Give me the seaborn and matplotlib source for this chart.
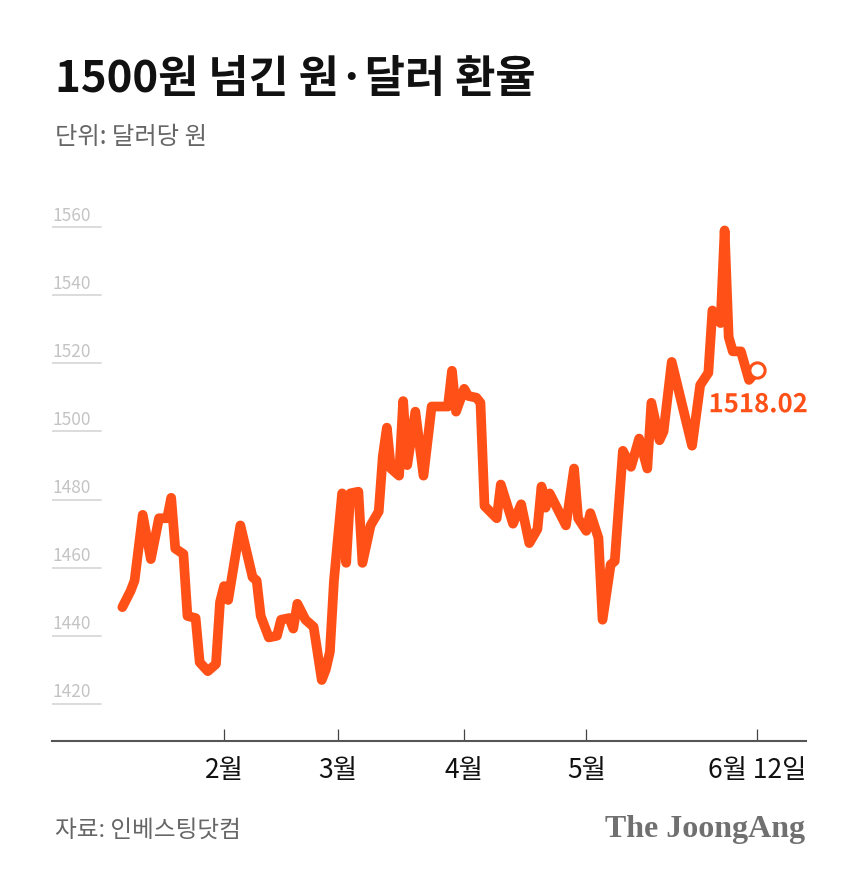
import pandas as pd
import matplotlib
matplotlib.use("Agg")
import matplotlib.pyplot as plt
import matplotlib.patheffects as pe
import seaborn as sns

# exchange rate (won per dollar)
dates = ["2026-01-07", "2026-01-09", "2026-01-10", "2026-01-12", "2026-01-14", "2026-01-16",
         "2026-01-18", "2026-01-19", "2026-01-20", "2026-01-22", "2026-01-23", "2026-01-25",
         "2026-01-26", "2026-01-28", "2026-01-30", "2026-01-31",
         "2026-02-01", "2026-02-02", "2026-02-05", "2026-02-08", "2026-02-09", "2026-02-10",
         "2026-02-12", "2026-02-14", "2026-02-15", "2026-02-17", "2026-02-18", "2026-02-19",
         "2026-02-21", "2026-02-23", "2026-02-25", "2026-02-26", "2026-02-27", "2026-02-28",
         "2026-03-02", "2026-03-03", "2026-03-04", "2026-03-06", "2026-03-07", "2026-03-09",
         "2026-03-11", "2026-03-12", "2026-03-13", "2026-03-14", "2026-03-16", "2026-03-17",
         "2026-03-18", "2026-03-20", "2026-03-22", "2026-03-24", "2026-03-26", "2026-03-28",
         "2026-03-29", "2026-03-30",
         "2026-04-01", "2026-04-02", "2026-04-04", "2026-04-05", "2026-04-06", "2026-04-09",
         "2026-04-10", "2026-04-13", "2026-04-15", "2026-04-17", "2026-04-19", "2026-04-20",
         "2026-04-21", "2026-04-22", "2026-04-26", "2026-04-28", "2026-04-29",
         "2026-05-01", "2026-05-02", "2026-05-04", "2026-05-05", "2026-05-07", "2026-05-08",
         "2026-05-10", "2026-05-12", "2026-05-14", "2026-05-16", "2026-05-17", "2026-05-19",
         "2026-05-20", "2026-05-22", "2026-05-27", "2026-05-29", "2026-05-31",
         "2026-06-01", "2026-06-03", "2026-06-04", "2026-06-05", "2026-06-06", "2026-06-08",
         "2026-06-10", "2026-06-12"]
rates = [1448.4, 1453.1, 1456.2, 1475.5, 1462.5, 1474.5, 1474.5, 1480.5, 1465.6, 1464.0,
         1445.8, 1445.2, 1432.2, 1429.6, 1431.7, 1449.9,
         1454.6, 1450.5, 1472.4, 1457.2, 1456.2, 1445.8, 1439.5, 1440.0, 1444.7, 1445.2,
         1442.1, 1449.4, 1444.7, 1442.6, 1427.0, 1430.1, 1435.3, 1456.2,
         1481.8, 1461.4, 1481.8, 1482.3, 1461.4, 1472.4, 1476.5, 1492.7, 1501.1, 1489.1,
         1487.0, 1508.9, 1490.1, 1505.8, 1487.0, 1507.3, 1507.3, 1507.3, 1517.8, 1505.8,
         1512.5, 1510.4, 1509.9, 1508.4, 1478.1, 1474.5, 1484.4, 1472.9, 1478.6, 1467.2,
         1471.3, 1483.8, 1477.6, 1481.8, 1472.4, 1489.1, 1474.5,
         1470.8, 1476.0, 1468.7, 1444.7, 1460.9, 1461.9, 1494.3, 1489.6, 1497.9, 1489.1,
         1508.4, 1497.4, 1500.0, 1520.4, 1495.8, 1513.6, 1517.2,
         1535.5, 1531.8, 1559.0, 1527.7, 1523.5, 1523.5, 1515.1, 1518.02]

y_ticks = [1420, 1440, 1460, 1480, 1500, 1520, 1540, 1560]
x_tick_dates = ["2026-02-01", "2026-03-01", "2026-04-01", "2026-05-01", "2026-06-12"]
x_tick_labels = ["2월", "3월", "4월", "5월", "6월 12일"]

df = pd.DataFrame({"date": pd.to_datetime(dates), "rate": rates})

sns.set_theme(style="white")
plt.rcParams["font.family"] = ["Noto Sans CJK KR", "DejaVu Sans"]

ORANGE = "#ff5117"

fig = plt.figure(figsize=(8.6, 8.78), dpi=100)
ax = fig.add_axes([52 / 860, 136 / 878, 754 / 860, 531 / 878])

sns.lineplot(data=df, x="date", y="rate", ax=ax, color=ORANGE, linewidth=7,
             solid_joinstyle="round", solid_capstyle="round")

# last value marker and label
last = df.iloc[[-1]]
ax.plot(last["date"], last["rate"], "o", markersize=11, markerfacecolor="white",
        markeredgecolor=ORANGE, markeredgewidth=2.2, zorder=5)
ax.annotate(f"{rates[-1]:.2f}", (last["date"].iloc[0], last["rate"].iloc[0]),
            xytext=(-35, -25), textcoords="offset points", ha="left", va="center",
            fontsize=18.5, fontweight="bold", color=ORANGE, zorder=6,
            path_effects=[pe.withStroke(linewidth=4, foreground="white")])

ax.set_xlim(pd.Timestamp("2025-12-20 17:00"), pd.Timestamp("2026-06-24"))
ax.set_ylim(1409.1, 1565)

# short gridlines with labels at the left
ax.set_yticks([])
for v in y_ticks:
    ax.axhline(v, xmin=0, xmax=0.065, color="#d6d6d6", linewidth=1.2, zorder=0)
    ax.annotate(str(v), (0, v), xycoords=("axes fraction", "data"),
                xytext=(0, 2.5), textcoords="offset points", ha="left", va="bottom",
                fontsize=12.5, color="#c4c4c4")

ax.set_xticks(pd.to_datetime(x_tick_dates))
ax.set_xticklabels(x_tick_labels, fontsize=19, color="#111111")
ax.tick_params(axis="x", direction="in", length=9, width=0.9, color="#444444",
               pad=11, bottom=True)

for s in ["top", "right", "left"]:
    ax.spines[s].set_visible(False)
ax.spines["bottom"].set_color("#555555")
ax.spines["bottom"].set_linewidth(1.5)
ax.set_xlabel("")
ax.set_ylabel("")

fig.text(55 / 860, 1 - 79 / 878, "1500원 넘긴 원·달러 환율", fontsize=31.5,
         fontweight="heavy", color="#111111", va="center", ha="left")
fig.text(55 / 860, 1 - 137 / 878, "단위: 달러당 원", fontsize=17.5,
         color="#666666", va="center", ha="left")
fig.text(55 / 860, 1 - 830 / 878, "자료: 인베스팅닷컴", fontsize=17,
         color="#666666", va="center", ha="left")
fig.text(805 / 860, 1 - 830 / 878, "The JoongAng", fontsize=23,
         family="Liberation Serif", fontweight="bold", color="#707070",
         va="center", ha="right")

fig.savefig("out.png", dpi=100, facecolor="white")
